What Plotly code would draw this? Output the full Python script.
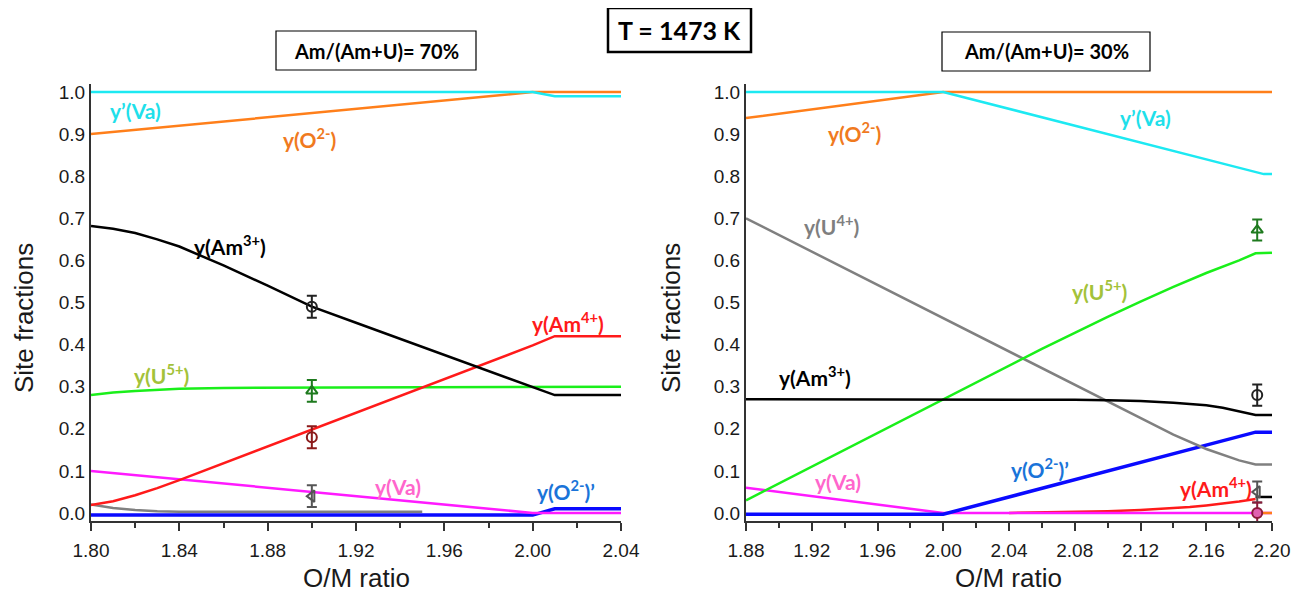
import plotly.graph_objects as go

# ---------------- Data: left panel (Am/(Am+U) = 70 %) ----------------
L_va_p_x = [1.80, 2.00, 2.01, 2.04]
L_va_p_y = [1.00, 1.00, 0.99, 0.99]
L_o2_x = [1.80, 2.00, 2.04]
L_o2_y = [0.90, 1.00, 1.00]
L_am3_x = [1.80, 1.81, 1.82, 1.83, 1.84, 1.86, 1.88, 1.90, 1.92, 1.94, 1.96, 1.98, 2.00, 2.01, 2.04]
L_am3_y = [0.682, 0.675, 0.665, 0.65, 0.633, 0.588, 0.54, 0.49, 0.452, 0.414, 0.376, 0.338, 0.299, 0.28, 0.28]
L_am4_x = [1.80, 1.81, 1.82, 1.83, 1.84, 1.86, 1.88, 1.90, 1.92, 1.94, 1.96, 1.98, 2.00, 2.01, 2.04]
L_am4_y = [0.019, 0.028, 0.042, 0.059, 0.078, 0.118, 0.158, 0.198, 0.238, 0.278, 0.318, 0.358, 0.398, 0.42, 0.42]
L_u5_x = [1.80, 1.81, 1.82, 1.83, 1.84, 1.86, 1.90, 1.96, 2.04]
L_u5_y = [0.28, 0.286, 0.29, 0.293, 0.295, 0.297, 0.298, 0.299, 0.30]
L_va_x = [1.80, 2.00, 2.01, 2.04]
L_va_y = [0.10, 0.00, 0.00, 0.00]
L_u4_x = [1.80, 1.81, 1.82, 1.83, 1.84, 1.95]
L_u4_y = [0.02, 0.012, 0.007, 0.004, 0.003, 0.003]
L_o2p_x = [1.80, 2.00, 2.01, 2.04]
L_o2p_y = [-0.005, -0.005, 0.01, 0.01]

# experimental points (left)
L_exp_x = 1.90
L_exp_am3 = 0.49
L_exp_u5 = 0.29
L_exp_am4 = 0.18
L_exp_u4 = 0.04
L_exp_err = 0.026

# ---------------- Data: right panel (Am/(Am+U) = 30 %) ----------------
R_va_p_x = [1.88, 2.00, 2.195, 2.20]
R_va_p_y = [1.00, 1.00, 0.805, 0.805]
R_o2_x = [1.88, 2.00, 2.20]
R_o2_y = [0.938, 1.00, 1.00]
R_u4_x = [1.88, 1.92, 1.96, 2.00, 2.04, 2.08, 2.10, 2.12, 2.14, 2.16, 2.18, 2.19, 2.20]
R_u4_y = [0.70, 0.621, 0.542, 0.463, 0.384, 0.305, 0.265, 0.225, 0.186, 0.152, 0.125, 0.115, 0.115]
R_u5_x = [1.88, 1.92, 1.96, 2.00, 2.04, 2.06, 2.08, 2.10, 2.12, 2.14, 2.16, 2.18, 2.19, 2.20]
R_u5_y = [0.03, 0.11, 0.19, 0.27, 0.35, 0.39, 0.428, 0.466, 0.502, 0.537, 0.57, 0.60, 0.617, 0.618]
R_am3_x = [1.88, 2.00, 2.08, 2.10, 2.12, 2.14, 2.16, 2.17, 2.18, 2.19, 2.20]
R_am3_y = [0.27, 0.27, 0.269, 0.268, 0.266, 0.262, 0.256, 0.25, 0.242, 0.233, 0.233]
R_o2p_x = [1.88, 2.00, 2.19, 2.20]
R_o2p_y = [-0.003, -0.003, 0.192, 0.192]
R_va_x = [1.88, 2.00, 2.20]
R_va_y = [0.06, 0.00, 0.00]
R_am4_x = [2.04, 2.08, 2.10, 2.12, 2.14, 2.15, 2.16, 2.17, 2.18, 2.19]
R_am4_y = [0.0, 0.002, 0.004, 0.007, 0.011, 0.014, 0.018, 0.022, 0.027, 0.033]
R_stub_blk_x = [2.19, 2.20]
R_stub_blk_y = [0.038, 0.038]
R_stub_org_x = [2.19, 2.20]
R_stub_org_y = [0.0, 0.0]

# experimental points (right)
R_exp_x = 2.191
R_exp_am3 = 0.28
R_exp_u5 = 0.672
R_exp_u4 = 0.05
R_exp_am4 = 0.0
R_exp_err = 0.025

# tick labels
L_xticks = [1.80, 1.84, 1.88, 1.92, 1.96, 2.00, 2.04]
R_xticks = [1.88, 1.92, 1.96, 2.00, 2.04, 2.08, 2.12, 2.16, 2.20]
Y_ticks = [0.0, 0.1, 0.2, 0.3, 0.4, 0.5, 0.6, 0.7, 0.8, 0.9, 1.0]

# ---------------- Styles ----------------
C_CYAN = "#1de9f2"
C_ORANGE = "#ff7f1a"
C_BLACK = "#000000"
C_RED = "#ff1a1a"
C_GREEN = "#1aef1a"
C_MAG = "#ff1aff"
C_BLUE = "#0a0aff"
C_GRAY = "#808080"

LBL_CYAN = "#1fe0ea"
LBL_ORANGE = "#f07a1e"
LBL_OLIVE = "#a3c23a"
LBL_PINK = "#ff66cc"
LBL_BLUE = "#1a74d9"
LBL_RED = "#ff1a1a"
LBL_GRAY = "#7f7f7f"

# page offset (html body margin) and figure size
OFF = 8
W, H = 1304.0, 584.0


def px(xpix):
    return (xpix - OFF) / W


def py(ypix):
    return 1 - (ypix - OFF) / H


fig = go.Figure()


def line(x, y, color, width, xa, ya):
    fig.add_trace(go.Scatter(x=x, y=y, mode="lines", xaxis=xa, yaxis=ya,
                             line=dict(color=color, width=width),
                             showlegend=False, hoverinfo="skip"))


def exp_point(x, y, err, symbol, color, xa, ya, fill=None):
    fig.add_trace(go.Scatter(x=[x], y=[y], mode="markers", xaxis=xa, yaxis=ya,
                             marker=dict(symbol=symbol, size=10, color=fill if fill else color,
                                         line=dict(color=color, width=2)),
                             error_y=dict(type="constant", value=err, color=color,
                                          thickness=2, width=5),
                             showlegend=False, hoverinfo="skip"))


# left panel
line(L_u4_x, L_u4_y, C_GRAY, 2.5, "x", "y")
line(L_o2p_x, L_o2p_y, C_BLUE, 3.5, "x", "y")
line(L_va_x, L_va_y, C_MAG, 2.5, "x", "y")
line(L_u5_x, L_u5_y, C_GREEN, 2.5, "x", "y")
line(L_am4_x, L_am4_y, C_RED, 2.5, "x", "y")
line(L_am3_x, L_am3_y, C_BLACK, 2.5, "x", "y")
line(L_o2_x, L_o2_y, C_ORANGE, 2.5, "x", "y")
line(L_va_p_x, L_va_p_y, C_CYAN, 2.5, "x", "y")
exp_point(L_exp_x, L_exp_am3, L_exp_err, "circle-open", "#222222", "x", "y")
exp_point(L_exp_x, L_exp_u5, L_exp_err, "triangle-up-open", "#1e7a1e", "x", "y")
exp_point(L_exp_x, L_exp_am4, L_exp_err, "circle-open", "#8b1a1a", "x", "y")
exp_point(L_exp_x, L_exp_u4, L_exp_err, "triangle-left-open", "#555555", "x", "y")

# right panel
line(R_am4_x, R_am4_y, C_RED, 2.5, "x2", "y2")
line(R_va_x, R_va_y, C_MAG, 2.5, "x2", "y2")
line(R_stub_org_x, R_stub_org_y, C_ORANGE, 2.5, "x2", "y2")
line(R_stub_blk_x, R_stub_blk_y, C_BLACK, 2.5, "x2", "y2")
line(R_o2p_x, R_o2p_y, C_BLUE, 3.5, "x2", "y2")
line(R_u4_x, R_u4_y, C_GRAY, 2.5, "x2", "y2")
line(R_u5_x, R_u5_y, C_GREEN, 2.5, "x2", "y2")
line(R_am3_x, R_am3_y, C_BLACK, 2.5, "x2", "y2")
line(R_o2_x, R_o2_y, C_ORANGE, 2.5, "x2", "y2")
line(R_va_p_x, R_va_p_y, C_CYAN, 2.5, "x2", "y2")
exp_point(R_exp_x, R_exp_am3, R_exp_err, "circle-open", "#222222", "x2", "y2")
exp_point(R_exp_x, R_exp_u5, R_exp_err, "triangle-up-open", "#1e7a1e", "x2", "y2")
exp_point(R_exp_x, R_exp_u4, R_exp_err, "triangle-left-open", "#555555", "x2", "y2")
exp_point(R_exp_x, R_exp_am4, R_exp_err, "circle", "#8b1a3a", "x2", "y2", fill="#e060b0")

# ---------------- Axes ----------------
TICKFONT = dict(family="Liberation Sans, Arial, sans-serif", size=19, color="#1a1a1a")
TITLEFONT = dict(family="Liberation Sans, Arial, sans-serif", size=26, color="#1a1a1a")


def xaxis_cfg(domain, rng, ticks, anchor):
    return dict(domain=domain, range=rng, anchor=anchor, tickvals=ticks, tickformat=".2f",
                automargin=False, ticklabelstandoff=3,
                showline=True, linecolor="#333333", linewidth=2, mirror=False,
                ticks="outside", ticklen=8, tickwidth=1.5, tickcolor="#333333",
                minor=dict(dtick=0.02, ticks="outside", ticklen=5, tickwidth=1.5, tickcolor="#333333"),
                showgrid=False, zeroline=False, tickfont=TICKFONT)


def yaxis_cfg(domain, anchor):
    return dict(domain=domain, range=[-0.02, 1.02], anchor=anchor, tickvals=Y_ticks, tickformat=".1f",
                automargin=False,
                showline=True, linecolor="#333333", linewidth=2, ticks="", showgrid=False,
                zeroline=False, tickfont=TICKFONT)


YDOM = [py(521.4), py(83.6)]
fig.update_layout(
    width=int(W), height=int(H),
    margin=dict(l=0, r=0, t=0, b=0, autoexpand=False),
    paper_bgcolor="white", plot_bgcolor="white",
    showlegend=False,
    xaxis=xaxis_cfg([px(91), px(621)], [1.80, 2.04], L_xticks, "y"),
    yaxis=yaxis_cfg(YDOM, "x"),
    xaxis2=xaxis_cfg([px(746), px(1272)], [1.88, 2.20], R_xticks, "y2"),
    yaxis2=yaxis_cfg(YDOM, "x2"),
)

# axis titles
for cx in (356, 1008):
    fig.add_annotation(text="O/M ratio", xref="paper", yref="paper", x=px(cx), y=py(578),
                       xanchor="center", yanchor="middle", showarrow=False, font=TITLEFONT)
for cx in (24, 671):
    fig.add_annotation(text="Site fractions", xref="paper", yref="paper", x=px(cx), y=py(318),
                       xanchor="center", yanchor="middle", showarrow=False, textangle=-90,
                       font=TITLEFONT)

# ---------------- Curve labels ----------------
LBLFONT = "Lato, Open Sans, sans-serif"


def label(text, x, y, color, xa, ya):
    fig.add_annotation(text="<b>" + text + "</b>", x=x, y=y, xref=xa, yref=ya, showarrow=False,
                       xanchor="center", yanchor="middle",
                       font=dict(family=LBLFONT, size=21, color=color))


label("y’(Va)", 1.82, 0.957, LBL_CYAN, "x", "y")
label("y(O<sup>2-</sup>)", 1.899, 0.89, LBL_ORANGE, "x", "y")
label("y(Am<sup>3+</sup>)", 1.863, 0.637, C_BLACK, "x", "y")
label("y(Am<sup>4+</sup>)", 2.016, 0.454, LBL_RED, "x", "y")
label("y(U<sup>5+</sup>)", 1.832, 0.33, LBL_OLIVE, "x", "y")
label("y(Va)", 1.939, 0.064, LBL_PINK, "x", "y")
label("y(O<sup>2-</sup>)’", 2.015, 0.055, LBL_BLUE, "x", "y")

label("y’(Va)", 2.123, 0.94, LBL_CYAN, "x2", "y2")
label("y(O<sup>2-</sup>)", 1.946, 0.905, LBL_ORANGE, "x2", "y2")
label("y(U<sup>4+</sup>)", 1.932, 0.684, LBL_GRAY, "x2", "y2")
label("y(U<sup>5+</sup>)", 2.095, 0.53, LBL_OLIVE, "x2", "y2")
label("y(Am<sup>3+</sup>)", 1.922, 0.325, C_BLACK, "x2", "y2")
label("y(Va)", 1.936, 0.074, LBL_PINK, "x2", "y2")
label("y(O<sup>2-</sup>)’", 2.059, 0.107, LBL_BLUE, "x2", "y2")
label("y(Am<sup>4+</sup>)", 2.166, 0.062, LBL_RED, "x2", "y2")

# ---------------- Boxed titles ----------------


def box(x0, y0, x1, y1, width, text, size):
    fig.add_shape(type="rect", xref="paper", yref="paper",
                  x0=px(x0), x1=px(x1), y0=py(y1), y1=py(y0),
                  line=dict(color="black", width=width), fillcolor="white", layer="below")
    fig.add_annotation(text="<b>" + text + "</b>", xref="paper", yref="paper",
                       x=px((x0 + x1) / 2), y=py((y0 + y1) / 2), xanchor="center", yanchor="middle",
                       showarrow=False, font=dict(family=LBLFONT, size=size, color="black"))


box(276, 31, 476, 70, 1.2, "Am/(Am+U)= 70%", 20)
box(942, 32, 1150, 71, 1.2, "Am/(Am+U)= 30%", 20)
box(608, 8, 751, 52, 2.5, "T = 1473 K", 25)

fig.write_html("out.html")
